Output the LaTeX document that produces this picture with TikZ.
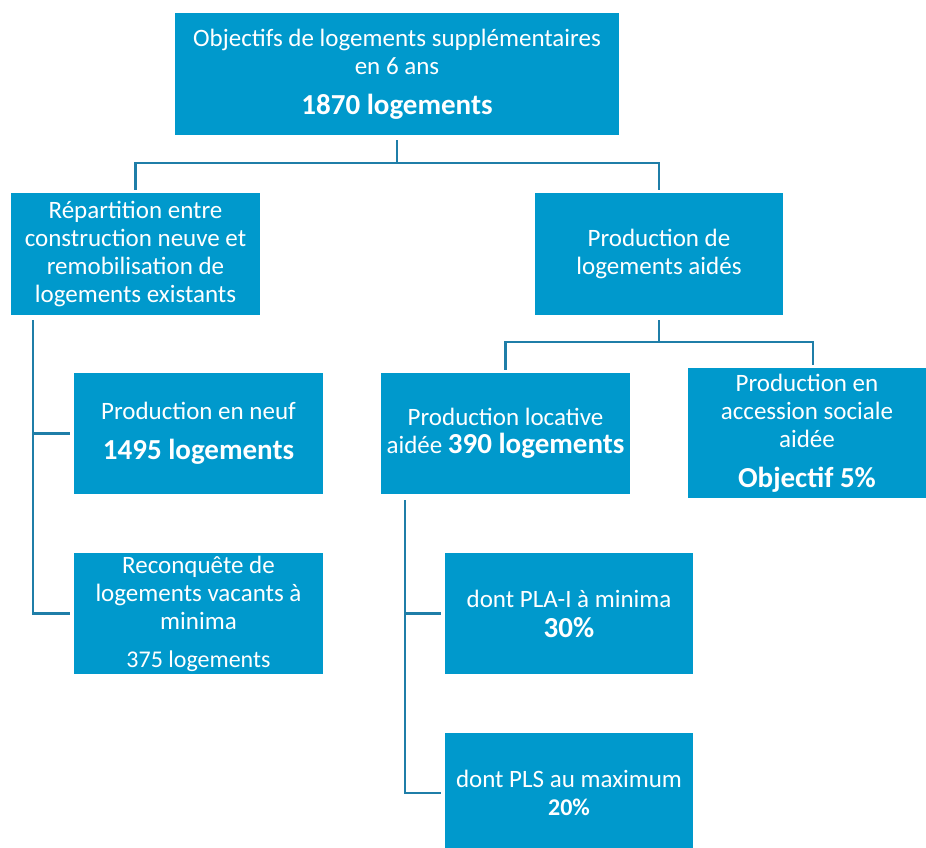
\documentclass[tikz,border=0pt]{standalone}
\usepackage{fontspec}
\setmainfont{Carlito}
\definecolor{boxblue}{HTML}{0099CC}
\definecolor{lineblue}{HTML}{1F7EA8}
\begin{document}
\begin{tikzpicture}[x=1pt,y=1pt,
  box/.style={fill=boxblue, draw=none, text=white, align=center, inner sep=0pt,
    font=\fontsize{25}{28}\selectfont},
  conn/.style={draw=lineblue, line width=2.2pt}]
\newcommand{\bignum}[1]{{\fontsize{29}{30}\selectfont\bfseries #1}}
\useasboundingbox (0,0) rectangle (926,-847);
\node[box, minimum width=444, minimum height=122] (top) at (397,-74)
  {Objectifs de logements supplémentaires\\en 6 ans\\[12pt]\bignum{1870 logements}};
\node[box, minimum width=249, minimum height=122] (left1) at (135.5,-254)
  {Répartition entre\\construction neuve et\\remobilisation de\\logements existants};
\node[box, minimum width=248, minimum height=122] (right1) at (659,-254)
  {Production de\\logements aidés};
\node[box, minimum width=249, minimum height=121] (neuf) at (198.5,-433.5)
  {Production en neuf\\[12pt]\bignum{1495 logements}};
\node[box, minimum width=249, minimum height=121] (reconq) at (198.5,-613.5)
  {Reconquête de\\logements vacants à\\minima\\[10pt]{\fontsize{24}{26}\selectfont 375 logements}};
\node[box, minimum width=249, minimum height=121] (loc) at (505.5,-433.5)
  {Production locative\\aidée \bignum{390 logements}};
\node[box, minimum width=238, minimum height=130] (acc) at (807,-433)
  {Production en\\accession sociale\\aidée\\[12pt]\bignum{Objectif 5\%}};
\node[box, minimum width=248, minimum height=121] (pla) at (569,-613.5)
  {dont PLA-I à minima\\[2pt]\bignum{30\%}};
\node[box, minimum width=248, minimum height=120] (pls) at (569,-793)
  {dont PLS au maximum\\{\fontsize{24}{26}\selectfont\bfseries 20\%}};
% connectors
\coordinate (tj) at (397,-163);
\draw[conn] ([yshift=-5]top.south) -- (tj);
\draw[conn] (tj) -| ([yshift=3]left1.north);
\draw[conn] (tj) -| ([yshift=3]right1.north);
\coordinate (rj) at (659,-342);
\draw[conn] ([yshift=-5]right1.south) -- (rj);
\draw[conn] (rj) -| ([yshift=3]loc.north);
\draw[conn] (rj) -| ([xshift=6,yshift=3]acc.north);
\coordinate (lv) at (33,-320);
\draw[conn] (lv) |- ([xshift=-4]reconq.west);
\draw[conn] (lv |- neuf.west) -- ([xshift=-4]neuf.west);
\coordinate (mv) at (405,-500);
\draw[conn] (mv) |- ([xshift=-4]pls.west);
\draw[conn] (mv |- pla.west) -- ([xshift=-4]pla.west);
\end{tikzpicture}
\end{document}
